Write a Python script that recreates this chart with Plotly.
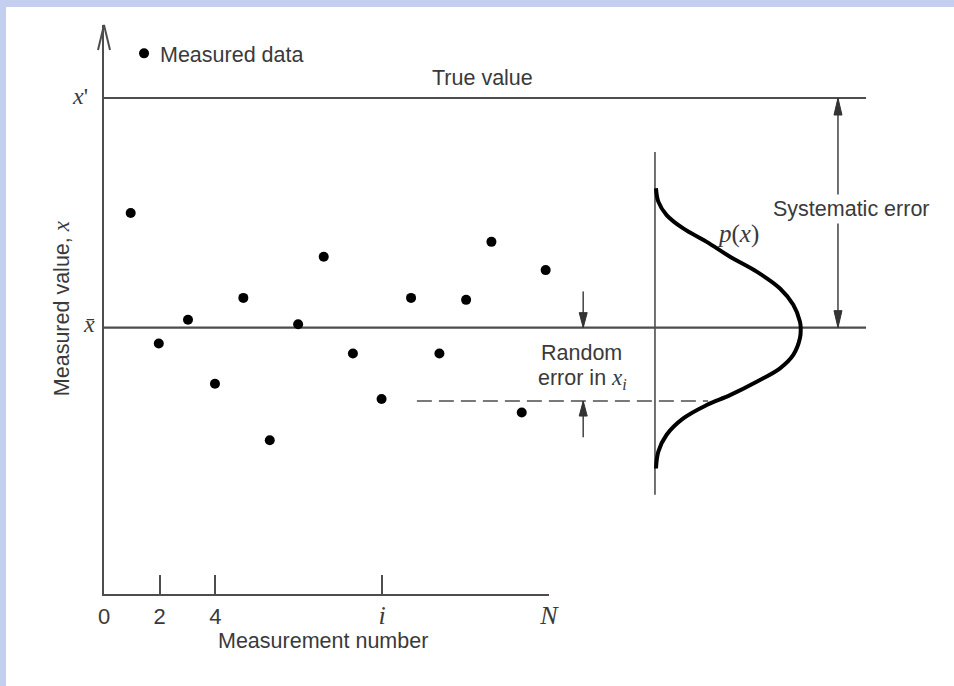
import plotly.graph_objects as go

# ---------------- data ----------------
measurement_number = [0.96, 1.97, 3.02, 3.99, 5.01, 5.96, 6.98, 7.90,
                      8.95, 9.98, 11.04, 12.06, 13.02, 13.93, 15.02, 15.88]
measured_value = [7.68, 5.05, 5.53, 4.24, 5.97, 3.10, 5.44, 6.80,
                  4.85, 3.93, 5.97, 4.85, 5.93, 7.10, 3.66, 6.53]
true_value = 10.0
mean_value = 5.37
xi_value = 3.89

# distribution p(x): measured value and relative density
pdf_x = [8.18, 7.91, 7.64, 7.37, 7.10, 6.80, 6.50, 6.16, 5.83, 5.49, 5.37,
         5.16, 4.82, 4.55, 4.28, 4.01, 3.81, 3.54, 3.21, 2.87, 2.53]
pdf_p = [0.007, 0.023, 0.080, 0.194, 0.355, 0.515, 0.698, 0.858, 0.949, 0.995, 1.0,
         0.995, 0.949, 0.858, 0.698, 0.515, 0.355, 0.194, 0.080, 0.023, 0.007]

tick_vals = [0, 2, 4, 10, 16]
SERIF = "Liberation Serif, Times New Roman, serif"
SANS = "Liberation Sans, Arial, sans-serif"
SERIF_SPAN = "<span style='font-family:Liberation Serif;font-size:26px'><i>{}</i></span>"
tick_labels = ["0", "2", "4", SERIF_SPAN.format("i"), SERIF_SPAN.format("N")]

# ---------------- layout geometry ----------------
W, H = 954, 686
PX_PER_X, PX_PER_Y = 27.8125, 49.6
X0_PX, Y0_PX = 104, 594
x_range = [-X0_PX / PX_PER_X, (W - X0_PX) / PX_PER_X]
y_range = [-(H - Y0_PX) / PX_PER_Y, Y0_PX / PX_PER_Y]
x_axis_end = 16
y_axis_top = 11.47
line_end_x = 27.40
sys_arrow_x = 26.39
pdf_base_x = 19.81
pdf_scale = 5.24
pdf_base_span = [2.0, 8.91]
rand_arrow_x = 17.23
rand_arrow_len = 0.73
dash_span = [11.25, 21.72]

LINE = "#4d4d4d"
TEXT = "#3a3a3a"
FS = 21.5


def head(xt, yt, direction, length=16, half=4):
    dy = length / PX_PER_Y * direction
    dx = half / PX_PER_X
    return [xt - dx, xt, xt + dx, xt - dx, None], [yt - dy, yt, yt - dy, yt - dy, None]


fig = go.Figure()

# horizontal reference lines (true value and mean)
fig.add_trace(go.Scatter(
    x=[0, line_end_x, None, 0, line_end_x],
    y=[true_value, true_value, None, mean_value, mean_value],
    mode="lines", line=dict(color=LINE, width=2.2), hoverinfo="skip"))

# y-axis arrow chevron
cx = 6 / PX_PER_X
cy = 25 / PX_PER_Y
fig.add_trace(go.Scatter(
    x=[-cx, 0, cx], y=[y_axis_top - cy, y_axis_top, y_axis_top - cy],
    mode="lines", line=dict(color=LINE, width=2), hoverinfo="skip"))

# distribution base line
fig.add_trace(go.Scatter(
    x=[pdf_base_x, pdf_base_x], y=pdf_base_span,
    mode="lines", line=dict(color=LINE, width=1.6), hoverinfo="skip"))

# dashed level of x_i
fig.add_trace(go.Scatter(
    x=dash_span, y=[xi_value, xi_value],
    mode="lines", line=dict(color=LINE, width=1.6, dash="15px,7px"), hoverinfo="skip"))

# p(x) curve
fig.add_trace(go.Scatter(
    x=[pdf_base_x + pdf_scale * p for p in pdf_p], y=pdf_x,
    mode="lines", line=dict(color="black", width=4, shape="spline", smoothing=1),
    hoverinfo="skip"))

# arrow shafts
fig.add_trace(go.Scatter(
    x=[sys_arrow_x, sys_arrow_x, None,
       rand_arrow_x, rand_arrow_x, None,
       rand_arrow_x, rand_arrow_x],
    y=[true_value, mean_value, None,
       mean_value + rand_arrow_len, mean_value, None,
       xi_value - rand_arrow_len, xi_value],
    mode="lines", line=dict(color=LINE, width=1.6), hoverinfo="skip"))

# arrow heads
hx, hy = [], []
for xt, yt, d, L, hw in [(sys_arrow_x, true_value, 1, 17, 4),
                         (sys_arrow_x, mean_value, -1, 17, 4),
                         (rand_arrow_x, mean_value, -1, 15, 4),
                         (rand_arrow_x, xi_value, 1, 15, 4)]:
    a, b = head(xt, yt, d, L, hw)
    hx += a
    hy += b
fig.add_trace(go.Scatter(x=hx, y=hy, mode="lines", fill="toself",
                         fillcolor="#333333", line=dict(color="#333333", width=1),
                         hoverinfo="skip"))

# measured data points
fig.add_trace(go.Scatter(
    x=measurement_number, y=measured_value, mode="markers",
    marker=dict(color="black", size=10), hoverinfo="skip"))

# legend bullet
fig.add_trace(go.Scatter(
    x=[1.44], y=[10.90], mode="markers",
    marker=dict(color="black", size=10), hoverinfo="skip"))

# dummy trace for the drawn axes subplot
fig.add_trace(go.Scatter(x=[0, x_axis_end], y=[0, 0], xaxis="x2", yaxis="y2",
                         mode="markers", marker=dict(opacity=0), hoverinfo="skip"))

ann = [
    dict(x=1.91, y=10.877, text="Measured data", xanchor="left", size=FS),
    dict(x=13.61, y=10.413, text="True value", size=FS),
    dict(x=26.894, y=7.756, text="Systematic error", size=FS, bg=True),
    dict(x=17.176, y=4.863, text="Random", size=FS),
    dict(x=17.21, y=4.34,
         text="error in <span style='font-family:Liberation Serif;font-size:23px'><i>x<sub>i</sub></i></span>",
         size=FS),
    dict(x=22.80, y=7.258, text="<i>p</i>(<i>x</i>)", size=25, serif=True),
    dict(x=-0.467, y=10.05, text="<i>x</i>'", xanchor="right", size=24, serif=True),
    dict(x=-0.55, y=5.44, text="<i>x\u0304</i>", size=24, serif=True),
    dict(x=7.874, y=-0.952, text="Measurement number", size=FS),
    dict(x=-1.54, y=5.766,
         text="Measured value, <span style='font-family:Liberation Serif;font-size:23px'><i>x</i></span>",
         size=FS, angle=-90),
]
annotations = []
for a in ann:
    annotations.append(dict(
        x=a["x"], y=a["y"], xref="x", yref="y", text=a["text"], showarrow=False,
        xanchor=a.get("xanchor", "center"), yanchor="middle",
        textangle=a.get("angle", 0),
        bgcolor="white" if a.get("bg") else None, borderpad=2,
        font=dict(family=SERIF if a.get("serif") else SANS, size=a["size"], color=TEXT)))

fig.update_layout(
    width=W, height=H, autosize=False,
    margin=dict(l=0, r=0, t=0, b=0, pad=0, autoexpand=False),
    paper_bgcolor="#c4cff0", plot_bgcolor="rgba(0,0,0,0)",
    showlegend=False, hovermode=False,
    xaxis=dict(range=x_range, visible=False, domain=[0, 1]),
    yaxis=dict(range=y_range, visible=False, domain=[0, 1]),
    xaxis2=dict(domain=[X0_PX / W, (X0_PX + x_axis_end * PX_PER_X) / W],
                range=[0, x_axis_end], anchor="y2",
                showline=True, linecolor=LINE, linewidth=2,
                ticks="inside", ticklen=19, tickwidth=2, tickcolor=LINE,
                tickvals=tick_vals, ticktext=tick_labels,
                tickfont=dict(family=SANS, size=22, color=TEXT),
                ticklabelstandoff=2,
                showgrid=False, zeroline=False),
    yaxis2=dict(domain=[(H - Y0_PX) / H, (H - Y0_PX + y_axis_top * PX_PER_Y) / H],
                range=[0, y_axis_top], anchor="x2",
                showline=True, linecolor=LINE, linewidth=2,
                ticks="", showticklabels=False, showgrid=False, zeroline=False),
    shapes=[dict(type="rect", xref="paper", yref="paper",
                 x0=6 / W, x1=1, y0=0, y1=1 - 7 / H,
                 fillcolor="white", line=dict(width=0), layer="below")],
    annotations=annotations,
)

fig.write_html("out.html")
